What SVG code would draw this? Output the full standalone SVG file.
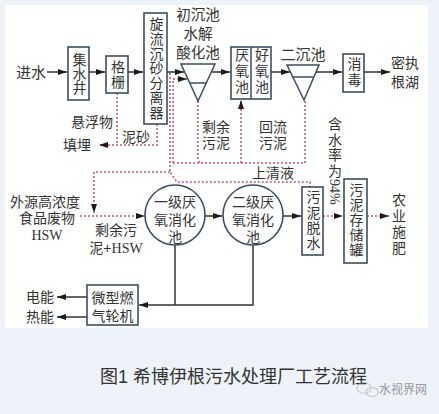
<svg xmlns="http://www.w3.org/2000/svg" width="439" height="414" viewBox="0 0 439 414">
<defs>
<marker id="ah" markerWidth="9" markerHeight="6" refX="9" refY="3" orient="auto" markerUnits="userSpaceOnUse"><path d="M0,0 L9,3 L0,6 z" fill="#1a1a1a"/></marker>
<style>
text{font-family:"Liberation Sans","Noto Sans CJK SC",sans-serif;fill:#333;font-size:14px;text-anchor:middle;dominant-baseline:central}
.vt{writing-mode:vertical-rl}
.box{fill:#fff;stroke:#3b4d63;stroke-width:1.6}
.sol{fill:none;stroke:#333;stroke-width:1.5}
.dsh{fill:none;stroke:#c4567a;stroke-width:1.6;stroke-dasharray:2 2}
.ser{font-family:"Liberation Serif","Noto Sans CJK SC",serif}
.cap{font-size:18px;text-anchor:start;dominant-baseline:auto;fill:#333}
</style>
</defs>
<rect x="0" y="0" width="439" height="414" fill="#eef3f9"/>
<rect x="5" y="5" width="423" height="323" fill="#fff"/>

<g id="connectors">
<path class="sol" d="M47,72 H67" marker-end="url(#ah)"/>
<path class="sol" d="M89,72 H105" marker-end="url(#ah)"/>
<path class="sol" d="M128,72 H143" marker-end="url(#ah)"/>
<path class="sol" d="M167,72 H184" marker-end="url(#ah)"/>
<path class="sol" d="M212,72 H230" marker-end="url(#ah)"/>
<path class="sol" d="M271,72 H290" marker-end="url(#ah)"/>
<path class="sol" d="M316,72 H342" marker-end="url(#ah)"/>
<path class="sol" d="M364,72 H390" marker-end="url(#ah)"/>
<path class="dsh" d="M117,93 V145"/>
<path class="dsh" d="M157,124 V145 H99" marker-end="url(#ah)"/>
<path class="dsh" d="M170,73 V172 L177,182 H310 V187"/>
<path class="dsh" d="M170,172 H94 V213" marker-end="url(#ah)"/>
<path class="dsh" d="M80,216 H145" marker-end="url(#ah)"/>
<path class="dsh" d="M173,163 V79 H187" marker-end="url(#ah)"/>
<path class="dsh" d="M173,163 H305 V101"/>
<path class="dsh" d="M198,101 V158 Q198,163 203,163"/>
<path class="dsh" d="M241,163 V100" marker-end="url(#ah)"/>
<path class="sol" d="M205,216 H222" marker-end="url(#ah)"/>
<path class="sol" d="M283,216 H301" marker-end="url(#ah)"/>
<path class="dsh" d="M323,216 H343" marker-end="url(#ah)"/>
<path class="dsh" d="M367,216 H389" marker-end="url(#ah)"/>
<path class="sol" d="M175,245 V305"/>
<path class="sol" d="M253,245 V305 H139" marker-end="url(#ah)"/>
<path class="sol" d="M87,297 H57" marker-end="url(#ah)"/>
<path class="sol" d="M87,317 H57" marker-end="url(#ah)"/>
</g>

<g id="labels">
<text x="31" y="72" style="font-size:15px">进水</text>
<text style="font-size:14.5px"><tspan x="198" y="15">初沉池</tspan><tspan x="198" y="34">水解</tspan><tspan x="198" y="53">酸化池</tspan></text>
<text x="303" y="54" style="font-size:15px">二沉池</text>
<text><tspan x="405" y="63">密执</tspan><tspan x="405" y="82">根湖</tspan></text>
<text x="92" y="122">悬浮物</text>
<text x="136" y="137">泥砂</text>
<text x="77" y="145">填埋</text>
<text><tspan x="216" y="127">剩余</tspan><tspan x="216" y="143">污泥</tspan></text>
<text><tspan x="273" y="127">回流</tspan><tspan x="273" y="143">污泥</tspan></text>
<text x="273" y="173">上清液</text>
<text x="334" y="117" class="vt" style="text-anchor:start;letter-spacing:1.5px">含水率为<tspan class="ser" style="letter-spacing:0">94%</tspan></text>
<text><tspan x="45" y="202">外源高浓度</tspan><tspan x="47" y="218">食品废物</tspan><tspan x="47" y="235" class="ser">HSW</tspan></text>
<text><tspan x="116" y="230">剩余污</tspan><tspan x="116" y="248">泥+<tspan class="ser">HSW</tspan></tspan></text>
<text x="398" y="225" class="vt" style="letter-spacing:2px">农业施肥</text>
<text x="40" y="297">电能</text>
<text x="40" y="317">热能</text>
</g>

<g id="n-jishuijing"><rect class="box" x="68" y="47" width="21" height="53"/>
<text x="78.5" y="74" class="vt">集水井</text></g>
<g id="n-geshan"><rect class="box" x="106" y="56" width="22" height="37"/>
<text x="117" y="74.5" class="vt" style="letter-spacing:1px">格栅</text></g>
<g id="n-xuanliu"><rect class="box" x="144" y="13" width="23" height="111"/>
<text x="155.5" y="68.5" class="vt" style="letter-spacing:0.8px">旋流沉砂分离器</text></g>
<g id="n-chuchen"><polygon points="181,64 215,64 198,101" fill="#fff" stroke="#3b4d63" stroke-width="1.5"/>
<line x1="189.7" y1="83" x2="206.3" y2="83" stroke="#3b4d63" stroke-width="1.5"/></g>
<g id="n-yanyang"><rect class="box" x="231" y="47" width="40" height="52"/>
<line x1="251" y1="47" x2="251" y2="99" stroke="#3b4d63" stroke-width="1.5"/>
<text x="241" y="72" class="vt" style="letter-spacing:2px">厌氧池</text>
<text x="261" y="72" class="vt" style="letter-spacing:2px">好氧池</text></g>
<g id="n-erchen"><polygon points="287,65 319,65 304,100" fill="#fff" stroke="#3b4d63" stroke-width="1.5"/>
<line x1="292.8" y1="77" x2="313.2" y2="77" stroke="#3b4d63" stroke-width="1.5"/></g>
<g id="n-xiaodu"><rect class="box" x="343" y="54" width="21" height="38"/>
<text x="353.5" y="73" class="vt" style="letter-spacing:2px">消毒</text></g>
<g id="n-xiaohua1"><circle cx="175" cy="215" r="30" fill="#fff" stroke="#3b4d63" stroke-width="1.6"/>
<text><tspan x="175" y="202">一级厌</tspan><tspan x="175" y="220">氧消化</tspan><tspan x="175" y="237">池</tspan></text></g>
<g id="n-xiaohua2"><circle cx="253" cy="215" r="30" fill="#fff" stroke="#3b4d63" stroke-width="1.6"/>
<text><tspan x="253" y="202">二级厌</tspan><tspan x="253" y="220">氧消化</tspan><tspan x="253" y="237">池</tspan></text></g>
<g id="n-tuoshui"><rect class="box" x="302" y="187" width="21" height="68"/>
<text x="312.5" y="220.5" class="vt" style="letter-spacing:1.3px">污泥脱水</text></g>
<g id="n-cunchu"><rect class="box" x="344" y="179" width="23" height="84"/>
<text x="355.5" y="220.5" class="vt" style="letter-spacing:1px">污泥存储罐</text></g>
<g id="n-lunji"><rect class="box" x="87" y="285" width="51" height="40"/>
<text><tspan x="112.5" y="298">微型燃</tspan><tspan x="112.5" y="316">气轮机</tspan></text></g>

<text x="100" y="383" class="cap">图1 希博伊根污水处理厂工艺流程</text>
<g opacity="0.45"><ellipse cx="364" cy="388" rx="7" ry="5.5" fill="none" stroke="#999" stroke-width="1.2"/><ellipse cx="372" cy="392" rx="6" ry="4.5" fill="none" stroke="#999" stroke-width="1.2"/></g>
<text x="403" y="390" style="font-size:12px;fill:#999">水视界网</text>
</svg>
